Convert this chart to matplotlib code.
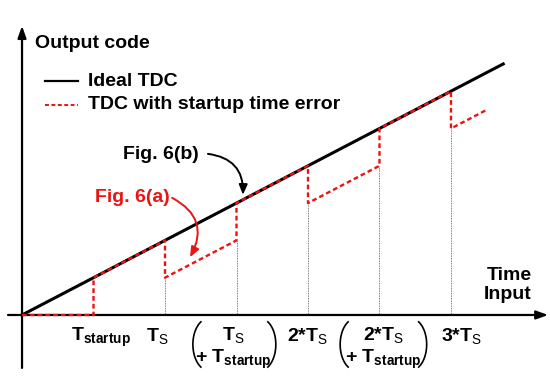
import numpy as np
import matplotlib.pyplot as plt

plt.rcParams['font.family'] = ['Liberation Sans', 'DejaVu Sans']
plt.rcParams['mathtext.fontset'] = 'custom'
plt.rcParams['mathtext.rm'] = 'Liberation Sans'
plt.rcParams['mathtext.bf'] = 'Liberation Sans:bold'

# time input in units of T_startup (T_S = 2 * T_startup), output in the same units
ideal_x = [0, 6.75]
ideal_y = [0, 6.75]

# TDC with startup time error (piecewise)
red_x = [0, 1, 1, 2, 2, 3, 3, 4, 4, 5, 5, 6, 6, 6.5]
red_y = [0, 0, 1, 2, 1, 2, 3, 4, 3, 4, 5, 6, 5, 5.5]

# thin guide lines under the sample instants
guide_x = [2, 3, 4, 5, 6]
guide_top = [1, 2, 3, 4, 5]

tick_pos = [1.10, 1.89, 3.99, 6.14]
tick_labels = [r"T$_{\mathbf{startup}}$", r"T$_{\mathrm{S}}$",
               r"2*T$_{\mathrm{S}}$", r"3*T$_{\mathrm{S}}$"]
# two-line labels in brackets
pair_pos = [2.95, 5.05]
pair_top = [r"T$_{\mathrm{S}}$", r"2*T$_{\mathrm{S}}$"]
pair_paren = [(2.39, 3.55), (4.45, 5.66)]

fig = plt.figure(figsize=(5.5, 3.81), dpi=100)
ax = fig.add_axes([0, 0, 1, 1])
ax.set_xlim(-0.308, 7.385)
ax.set_ylim(-1.77, 8.445)
ax.axis('off')

# axes with arrows
ax.annotate('', xy=(7.36, 0), xytext=(-0.196, 0),
            arrowprops=dict(arrowstyle='-|>,head_length=0.7,head_width=0.25',
                            lw=1.6, color='black', shrinkA=0, shrinkB=0))
ax.annotate('', xy=(0, 7.75), xytext=(0, -1.42),
            arrowprops=dict(arrowstyle='-|>,head_length=0.7,head_width=0.25',
                            lw=1.6, color='black', shrinkA=0, shrinkB=0))

for gx, gt in zip(guide_x, guide_top):
    ax.plot([gx, gx], [0, gt], color='#555555', lw=0.6, ls=(0, (1, 1)), zorder=1)

ax.plot(ideal_x, ideal_y, color='black', lw=2.2, zorder=2, solid_capstyle='butt')
ax.plot(red_x, red_y, color='#ee1111', lw=1.7, ls=(0, (2, 1.3)), zorder=3)

# legend drawn by hand
ax.plot([0.32, 0.78], [6.27, 6.27], color='black', lw=1.6)
ax.plot([0.32, 0.78], [5.63, 5.63], color='#ee1111', lw=1.4, ls=(0, (2, 1.3)))
ax.text(0.92, 6.27, "Ideal TDC", fontsize=14, fontweight='bold', va='center')
ax.text(0.92, 5.63, "TDC with startup time error", fontsize=14,
        fontweight='bold', va='center')

ax.text(0.18, 7.29, "Output code", fontsize=14, fontweight='bold', va='center')
ax.text(7.13, 0.80, "Time\nInput", fontsize=14, fontweight='bold',
        ha='right', va='center', linespacing=1.1)

# figure references
ax.text(1.41, 4.29, "Fig. 6(b)", fontsize=14, fontweight='bold', va='center')
ax.annotate('', xy=(3.09, 3.22), xytext=(2.60, 4.32),
            arrowprops=dict(arrowstyle='-|>,head_length=0.6,head_width=0.25',
                            lw=1.4, color='black', shrinkA=0, shrinkB=0,
                            connectionstyle='arc3,rad=-0.45'))
ax.text(1.02, 3.14, "Fig. 6(a)", fontsize=14, fontweight='bold', va='center',
        color='#ee1111')
ax.annotate('', xy=(2.35, 1.55), xytext=(2.10, 3.14),
            arrowprops=dict(arrowstyle='-|>,head_length=0.6,head_width=0.25',
                            lw=1.4, color='#ee1111', shrinkA=0, shrinkB=0,
                            connectionstyle='arc3,rad=-0.5'))

# tick labels
for tx, tl in zip(tick_pos, tick_labels):
    ax.text(tx, -0.59, tl, fontsize=14, fontweight='bold', ha='center', va='center')

# thin parentheses drawn as elliptical curves
t = np.linspace(-np.pi / 3, np.pi / 3, 40)
pa, pb, pyc = 0.224, 0.70, -0.79
for px, pt, (pl, pr) in zip(pair_pos, pair_top, pair_paren):
    ax.text(px, -0.57, pt, fontsize=14, fontweight='bold', ha='center', va='center')
    ax.text(px, -1.18, r"+ T$_{\mathbf{startup}}$", fontsize=14, fontweight='bold',
            ha='center', va='center')
    ax.plot(pl + pa - pa * np.cos(t), pyc + pb * np.sin(t), color='black', lw=1.2)
    ax.plot(pr - pa + pa * np.cos(t), pyc + pb * np.sin(t), color='black', lw=1.2)

fig.savefig('out.png', dpi=100)
